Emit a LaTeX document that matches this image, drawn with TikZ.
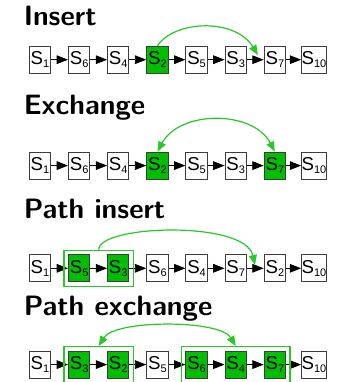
\documentclass[tikz,border=0pt]{standalone}
\usepackage{fontspec}
\newfontfamily\arialf{Liberation Sans}
\usetikzlibrary{arrows.meta,fit}
\definecolor{boxgreen}{RGB}{0,190,0}
\definecolor{arcgreen}{RGB}{40,200,40}
\definecolor{boxgray}{RGB}{60,60,60}
\newcommand\slabel[1]{{\fontsize{14}{14}\arialf S\raisebox{-2pt}{\fontsize{8.25}{8.25}\selectfont #1}}}
\tikzset{
  sbox/.style={draw=boxgray, line width=0.75pt, fill=white, minimum width=16pt, minimum height=20.25pt, inner sep=0pt},
  selbox/.style={sbox, fill=boxgreen},
  link/.style={-{Triangle[length=8.5pt,width=6.5pt]}, line width=0.6pt, black},
  move/.style={draw=arcgreen, line width=0.9pt, -{Triangle[length=7.5pt,width=6pt]}},
  swap/.style={draw=arcgreen, line width=0.9pt, {Triangle[length=7.5pt,width=6pt]}-{Triangle[length=7.5pt,width=6pt]}},
  group/.style={draw=arcgreen, line width=0.9pt, inner sep=3pt},
  title/.style={anchor=base west, font=\sffamily\bfseries\fontsize{21}{21}\selectfont, inner sep=0pt}
}
\begin{document}
\begin{tikzpicture}[x=0.75pt,y=-0.75pt]
\useasboundingbox (0,0) rectangle (336,382);
% titles
\node[title] (t1) at (23.5,25.5) {Insert};
\node[title] (t2) at (23.5,114.3) {Exchange};
\node[title] (t3) at (23.5,218.3) {Path insert};
\node[title] (t4) at (23.5,315.7) {Path exchange};
% row 1
\foreach \lab/\st [count=\i] in {1/sbox,6/sbox,4/sbox,2/selbox,5/sbox,3/sbox,7/sbox,10/sbox}
  \node[\st] (a\i) at ({40+39.14*(\i-1)},59.7) {\slabel{\lab}};
% row 2
\foreach \lab/\st [count=\i] in {1/sbox,6/sbox,4/sbox,2/selbox,5/sbox,3/sbox,7/selbox,10/sbox}
  \node[\st] (b\i) at ({40+39.14*(\i-1)},165.6) {\slabel{\lab}};
% row 3
\foreach \lab/\st [count=\i] in {1/sbox,5/selbox,3/selbox,6/sbox,4/sbox,7/sbox,2/sbox,10/sbox}
  \node[\st] (c\i) at ({40+39.14*(\i-1)},268.3) {\slabel{\lab}};
% row 4
\foreach \lab/\st [count=\i] in {1/sbox,3/selbox,2/selbox,5/sbox,6/selbox,4/selbox,7/selbox,10/sbox}
  \node[\st] (d\i) at ({40+39.14*(\i-1)},364.6) {\slabel{\lab}};
% links
\foreach \r in {a,b,c,d}
  \foreach \i in {1,...,7}{
    \pgfmathtruncatemacro\j{\i+1}
    \draw[link] (\r\i) -- (\r\j);
  }
% groups
\node[group, fit=(c2)(c3)] (g3) {};
\node[group, fit=(d2)(d3)] (g4a) {};
\node[group, fit=(d5)(d6)(d7)] (g4b) {};
% moves
\coordinate (m1) at (258,55);
\draw[move] (a4.north) .. controls (175,20) and (235,18) .. (m1);
\draw[swap] (b4.north) .. controls (180,110) and (253,110) .. (b7.north);
\coordinate (m3) at (255,265);
\draw[move] (g3.north) .. controls (98.3,225) and (245,220) .. (m3);
\draw[swap] (g4a.north) .. controls (115,319.5) and (220,319.5) .. (g4b.north);
\end{tikzpicture}
\end{document}
